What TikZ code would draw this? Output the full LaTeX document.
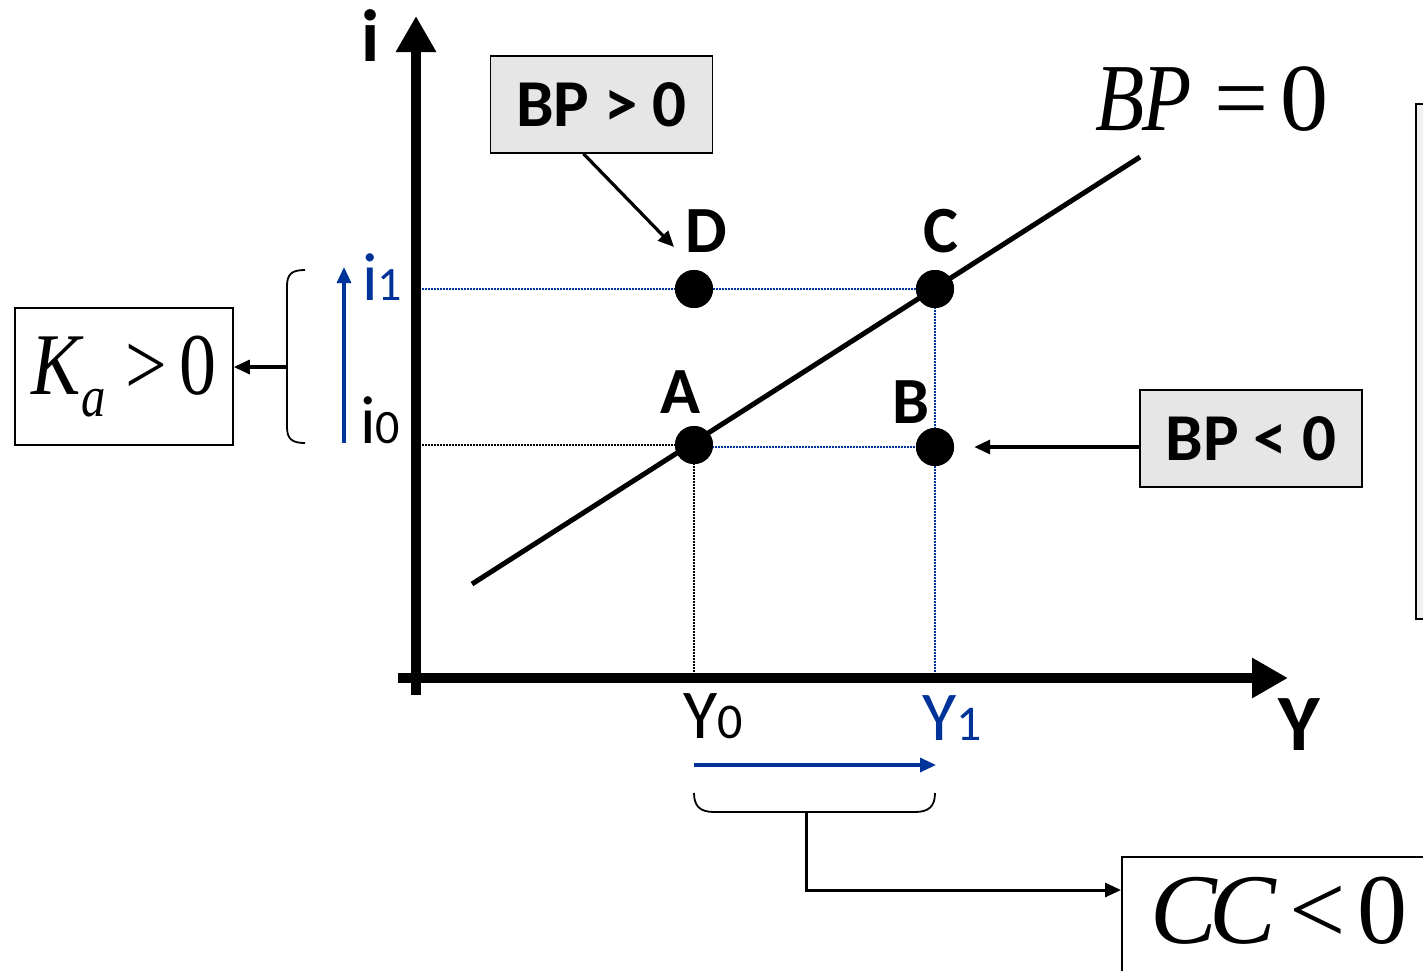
\documentclass[tikz,border=0pt]{standalone}
\usepackage{fontspec}
\usepackage{graphicx}
\setmainfont{Carlito}
\newfontfamily\tnr{Liberation Serif}
\usetikzlibrary{arrows.meta}
\definecolor{dkblue}{RGB}{0,51,153}
\definecolor{boxgray}{RGB}{230,230,230}
\definecolor{sidegray}{RGB}{241,241,241}
\newcommand{\narrowtxt}[1]{\scalebox{0.84}[1]{#1}}
\begin{document}
\begin{tikzpicture}[x=1pt,y=-1pt,
  axis/.style={line width=10pt,-{Triangle[length=36pt,width=38pt]}},
  dotnode/.style={circle,fill=black,minimum size=38pt,inner sep=0pt},
  ptlabel/.style={font=\fontsize{66}{66}\selectfont\bfseries,anchor=base,inner sep=0pt},
  gbox/.style={draw,line width=1.5pt,fill=boxgray,minimum width=222pt,minimum height=97pt,inner sep=0pt,font=\fontsize{67}{67}\selectfont\bfseries},
  wbox/.style={draw,line width=1.5pt,fill=white,inner sep=0pt},
  guide/.style={dash pattern=on 1.6pt off 1.4pt,line width=1.4pt},
  conn/.style={line width=3.2pt,-{Triangle[length=16pt,width=14pt]}},
  bconn/.style={line width=3.2pt,dkblue,-{Triangle[length=16pt,width=14pt]}},
  ticklbl/.style={anchor=base west,inner sep=0pt,font=\fontsize{70}{70}\selectfont},
]
\clip (0,0) rectangle (1423,970);
\useasboundingbox (0,0) rectangle (1423,970);

% side box on the right (cut off)
\node[draw,line width=1.5pt,fill=sidegray,minimum width=60pt,minimum height=515pt,anchor=north west,inner sep=0pt] (rbox) at (1415,103) {};

% points
\node[dotnode] (A) at (694,445) {};
\node[dotnode] (B) at (935,447) {};
\node[dotnode] (C) at (935,289) {};
\node[dotnode] (D) at (694,289) {};

% axes
\coordinate (vbot) at (416,695);
\coordinate (vtop) at (416,16);
\coordinate (hleft) at (398,678);
\coordinate (hright) at (1288,678);

% guide lines
\draw[guide,dkblue] (vtop |- C) -- (C.center);
\draw[guide] (vtop |- A) -- (A.center);
\draw[guide,dkblue] (A.center |- B) -- (B.center);
\draw[guide] (A.center) -- (A.center |- hleft);
\draw[guide,dkblue] (C.center) -- (C.center |- hleft);

\draw[axis] (vbot) -- (vtop);
\draw[axis] (hleft) -- (hright);

% BP = 0 line
\coordinate (bplo) at (472,584);
\coordinate (bphi) at (1140,157);
\draw[line width=5pt] (bplo) -- (bphi);

% redraw points on top
\node[dotnode] at (A) {};
\node[dotnode] at (B) {};
\node[dotnode] at (C) {};
\node[dotnode] at (D) {};

% point labels
\node[ptlabel] (labA) at (680,413) {A};
\node[ptlabel] (labB) at (911,423) {B};
\node[ptlabel] (labC) at (941,252) {C};
\node[ptlabel] (labD) at (706,252) {D};

% axis labels
\node[anchor=base,inner sep=0pt,font=\fontsize{74}{74}\selectfont\bfseries] (ilab) at (371,61) {i};
\node[anchor=base,inner sep=0pt,font=\fontsize{80}{80}\selectfont\bfseries] (Ylab) at (1299,750) {Y};

% tick labels
\node[ticklbl] (Y0) at (683,738) {Y\fontsize{50}{50}\selectfont 0};
\node[ticklbl,text=dkblue] (Y1) at (922,740) {Y\fontsize{50}{50}\selectfont 1};
\node[ticklbl,font=\fontsize{68}{68}\selectfont,text=dkblue] (i1) at (362,300) {i\fontsize{48}{48}\selectfont 1};
\node[ticklbl,font=\fontsize{68}{68}\selectfont] (i0) at (360,443) {i\fontsize{48}{48}\selectfont 0};

% BP = 0 label
\node[anchor=base west,inner sep=0pt] (bpeq) at (1095,130)
  {\tnr\fontsize{96}{96}\selectfont\narrowtxt{\textit{B}\kern-2pt\textit{P}}\kern22pt=\kern12pt0};

% grey boxes
\node[gbox] (bpg) at (601.5,104.5) {BP > 0};
\node[gbox] (bpl) at (1251,438.5) {BP < 0};
\coordinate (dtip) at (674,247);
\draw[conn] ([xshift=-18pt]bpg.south) -- (dtip);
\draw[conn] (bpl.west |- B.center) -- ([xshift=20pt]B.east);

% left box K_a > 0
\node[wbox,minimum width=218pt,minimum height=137pt] (kbox) at (124,376.5)
  {\narrowtxt{\tnr\fontsize{88}{88}\selectfont\textit{K}\kern-4pt\raisebox{-22pt}{\fontsize{58}{58}\selectfont\textit{a}}\kern24pt>\kern14pt0}};

% left bracket
\coordinate (lbr) at (287,367);
\draw[line width=1.8pt] (305,270) .. controls (292,270) and (287,274) .. (287,286) -- (287,427) .. controls (287,439) and (292,443) .. (305,443);
\draw[conn] (lbr) -- (kbox.east |- lbr);

% blue rise arrow i0 -> i1
\coordinate (ibot) at (344,443);
\coordinate (itop) at (344,267);
\draw[bconn] (ibot) -- (itop);

% blue arrow Y0 -> Y1
\coordinate (ybl) at (694,765);
\coordinate (ybr) at (936,765);
\draw[bconn] (ybl) -- (ybr);

% bottom bracket
\draw[line width=1.8pt] (694,793) .. controls (694,806) and (700,812) .. (714,812) -- (915,812) .. controls (929,812) and (935,806) .. (935,793);
\coordinate (bbr) at (806,812);

% CC < 0 box
\node[wbox,minimum width=330pt,minimum height=160pt,anchor=north west] (ccbox) at (1121,856) {};
\node[anchor=base west,inner sep=0pt] (cctxt) at (1150,943)
  {\tnr\fontsize{100}{100}\selectfont\textit{C}\kern-8pt\textit{C}\kern12pt<\kern12pt0};
\path (ccbox.north west) ++(0,34) coordinate (ccin);
\draw[line width=3pt,-{Triangle[length=16pt,width=14pt]}] (bbr) |- (ccin);
\end{tikzpicture}
\end{document}
